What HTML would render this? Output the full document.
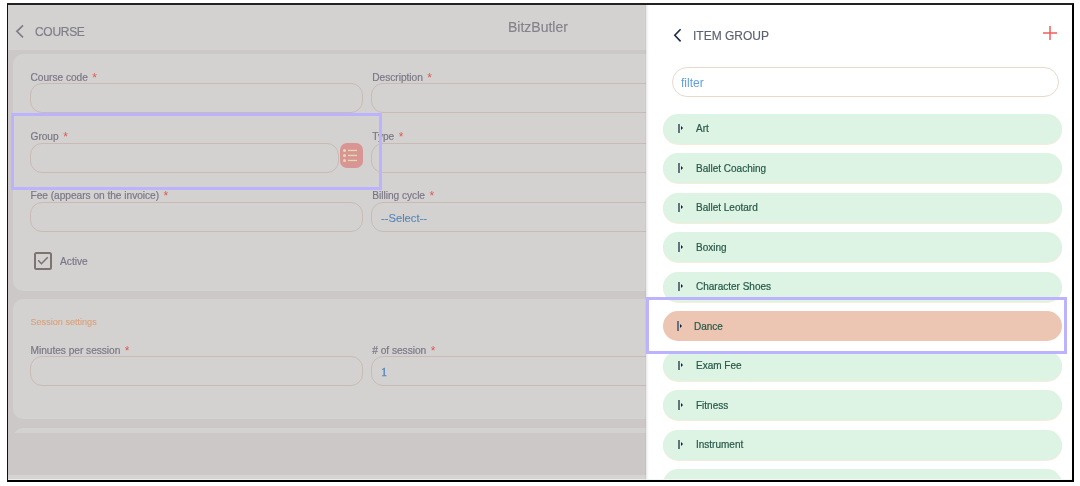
<!DOCTYPE html>
<html><head><meta charset="utf-8">
<style>
*{box-sizing:border-box;margin:0;padding:0}
html,body{width:1080px;height:486px;overflow:hidden;background:#fff;font-family:"Liberation Sans",sans-serif}
#frame{will-change:transform}
.abs{position:absolute}
#frame{position:absolute;left:7px;top:3px;width:1067px;height:479px;border-left:1px solid #111;border-top:2px solid #222;border-right:2px solid #000;border-bottom:2px solid #000;overflow:hidden}
#left{position:absolute;left:0;top:0;width:638px;height:475px;background:#cbc8c7;overflow:hidden}
#hdr{position:absolute;left:0;top:0;width:638px;height:45px;background:#d4d2d1}
.card{position:absolute;left:5px;width:1050px;background:#d4d2d1;border-radius:10px}
.lbl{position:absolute;font-size:10.2px;color:#7a7886;white-space:nowrap;line-height:12px;letter-spacing:-0.04px;-webkit-text-stroke:0.2px #7a7886}
.lbl b{font-weight:normal;color:#dc5a54;margin-left:4.5px;font-size:12px;line-height:10px;-webkit-text-stroke:0;position:relative;top:1.5px}
.inp{position:absolute;height:30px;border:1px solid #c8bbb5;border-radius:12px}
.val{position:absolute;color:#5a88b8;white-space:nowrap}
#panel{position:absolute;left:638px;top:0;width:426px;height:475px;background:#fff}
.item{position:absolute;left:17px;width:399px;height:30.2px;background:#ddf3e3;border-radius:15px;box-shadow:0 1px 0 #f6ecda}
.item .bar{position:absolute;left:15px;top:10px;width:2px;height:9.5px;background:#64737e}
.item .tri{position:absolute;left:18px;top:12.5px;width:0;height:0;border-top:2px solid transparent;border-bottom:2px solid transparent;border-left:2.6px solid #141c3c}
.item .t{position:absolute;left:33px;top:9.5px;font-size:10px;color:#285a4b;white-space:nowrap;line-height:12px;-webkit-text-stroke:0.2px #285a4b}
.purple{position:absolute;border:3px solid #bcb3ff}
</style></head><body>
<div id="frame">
  <div id="left">
    <div id="hdr">
      <svg class="abs" style="left:7px;top:19px" width="10" height="15" viewBox="0 0 10 15"><path d="M8 1.3 L1.9 7.3 L8 13.3" fill="none" stroke="#7f7e87" stroke-width="1.7"/></svg>
      <div class="abs" style="left:27px;top:19.5px;font-size:12px;color:#7f7e87;line-height:14px;letter-spacing:-0.3px;-webkit-text-stroke:0.2px #7f7e87">COURSE</div>
      <div class="abs" style="left:500px;top:13.5px;font-size:14px;color:#85838a;line-height:16px;-webkit-text-stroke:0.15px #85838a">BitzButler</div>
    </div>
    <!-- card 1 -->
    <div class="card" style="top:49px;height:236.5px"></div>
    <div class="lbl" style="left:22.5px;top:66.5px">Course code<b>*</b></div>
    <div class="inp" style="left:22px;top:78px;width:333px"></div>
    <div class="lbl" style="left:364.3px;top:66.5px">Description<b>*</b></div>
    <div class="inp" style="left:363px;top:78px;width:333px"></div>

    <div class="lbl" style="left:22.5px;top:125.5px">Group<b>*</b></div>
    <div class="inp" style="left:22px;top:138px;width:309px"></div>
    <div class="abs" style="left:332px;top:138px;width:23px;height:25px;background:#d99593;border-radius:7px">
      <svg class="abs" style="left:2px;top:5px" width="17" height="15" viewBox="0 0 17 15"><g fill="#e2dbb0"><circle cx="2.5" cy="2.5" r="1.5"/><circle cx="2.5" cy="7.5" r="1.5"/><circle cx="2.5" cy="12.5" r="1.5"/><rect x="6" y="1.8" width="9" height="1.3"/><rect x="6" y="6.8" width="9" height="1.3"/><rect x="6" y="11.8" width="9" height="1.3"/></g></svg>
    </div>
    <div class="lbl" style="left:364.3px;top:125.5px">Type<b>*</b></div>
    <div class="inp" style="left:363px;top:138px;width:333px"></div>

    <div class="lbl" style="left:22.5px;top:184.5px">Fee (appears on the invoice)<b>*</b></div>
    <div class="inp" style="left:22px;top:197px;width:333px"></div>
    <div class="lbl" style="left:364.3px;top:184.5px">Billing cycle<b>*</b></div>
    <div class="inp" style="left:363px;top:197px;width:333px"></div>
    <div class="val" style="left:373px;top:207px;font-size:11.2px;line-height:13px;-webkit-text-stroke:0.15px #5a88b8">--Select--</div>

    <div class="abs" style="left:26px;top:247px;width:18px;height:18px;border:2px solid #7d7471;border-radius:2.5px">
      <svg class="abs" style="left:0;top:0" width="14" height="14" viewBox="0 0 14 14"><path d="M2.2 6.3 L5.4 9.7 L11.8 3.2" fill="none" stroke="#7a716e" stroke-width="1.5"/></svg>
    </div>
    <div class="lbl" style="left:52px;top:250.5px;letter-spacing:0">Active</div>

    <!-- card 2 -->
    <div class="card" style="top:294px;height:120px"></div>
    <div class="abs" style="left:22.5px;top:312px;font-size:9.1px;color:#dba07b;-webkit-text-stroke:0.1px #dba07b;line-height:11px;white-space:nowrap">Session settings</div>
    <div class="lbl" style="left:22.5px;top:339.5px">Minutes per session<b>*</b></div>
    <div class="inp" style="left:22px;top:351px;width:333px"></div>
    <div class="lbl" style="left:364.3px;top:339.5px"># of session<b>*</b></div>
    <div class="inp" style="left:363px;top:351px;width:333px"></div>
    <div class="val" style="left:373px;top:360.5px;font-size:12.5px;line-height:13px;font-family:'Liberation Serif',serif;-webkit-text-stroke:0.3px #5a88b8">1</div>

    <!-- card 3 -->
    <div class="card" style="top:422.5px;height:60px"></div>
    <div class="abs" style="left:0;top:428px;width:638px;height:41.5px;background:#ccc8c7"></div>
    <div class="abs" style="left:0;top:469.5px;width:638px;height:4.5px;background:#d6d4d3"></div><div class="abs" style="left:0;top:474px;width:638px;height:1px;background:#ececeb"></div>

    <div class="abs" style="left:637px;top:0;width:1px;height:475px;background:rgba(0,0,0,0.03)"></div>
    <div class="purple" style="left:3px;top:108px;width:370.5px;height:77px"></div>
  </div>

  <div id="panel">
    <div class="abs" style="left:0;top:0;width:3px;height:475px;background:linear-gradient(to right,#e6e6e6,#f8f8f8 60%,#fff)"></div>
    <svg class="abs" style="left:27px;top:23px" width="10" height="15" viewBox="0 0 10 15"><path d="M7.6 1.2 L1.8 7.3 L7.6 13.4" fill="none" stroke="#1e2c48" stroke-width="1.6"/></svg>
    <div class="abs" style="left:47px;top:23.5px;font-size:12px;color:#5c6270;line-height:14px;white-space:nowrap;-webkit-text-stroke:0.15px #5c6270">ITEM GROUP</div>
    <svg class="abs" style="left:397px;top:21px" width="14" height="14" viewBox="0 0 14 14"><path d="M0 7 H14 M7 0 V14" stroke="#f25c5c" stroke-width="1.5"/></svg>
    <div class="abs" style="left:26px;top:62px;width:387px;height:30px;border:1px solid #e8d9cd;border-radius:15px"></div>
    <div class="abs" style="left:35px;top:70.5px;font-size:12px;color:#62a0dc;line-height:14px">filter</div>

    <div class="item" style="top:108.5px"><div class="bar"></div><div class="tri"></div><div class="t">Art</div></div>
    <div class="item" style="top:148px"><div class="bar"></div><div class="tri"></div><div class="t">Ballet Coaching</div></div>
    <div class="item" style="top:187.5px"><div class="bar"></div><div class="tri"></div><div class="t">Ballet Leotard</div></div>
    <div class="item" style="top:227px"><div class="bar"></div><div class="tri"></div><div class="t">Boxing</div></div>
    <div class="item" style="top:266.5px"><div class="bar"></div><div class="tri"></div><div class="t">Character Shoes</div></div>
    <div class="item" style="top:306px;background:#ecc6b2;box-shadow:none"><div class="bar" style="left:14px"></div><div class="tri" style="left:17px"></div><div class="t" style="left:31px">Dance</div></div>
    <div class="item" style="top:345.5px"><div class="bar"></div><div class="tri"></div><div class="t">Exam Fee</div></div>
    <div class="item" style="top:385px"><div class="bar"></div><div class="tri"></div><div class="t">Fitness</div></div>
    <div class="item" style="top:424.5px"><div class="bar"></div><div class="tri"></div><div class="t">Instrument</div></div>
    <div class="item" style="top:464px"></div>

    <div class="purple" style="left:0;top:292px;width:421px;height:57px"></div>
    <div class="abs" style="left:0;top:474px;width:426px;height:1px;background:#f4f8f5"></div>
  </div>
</div>
</body></html>
